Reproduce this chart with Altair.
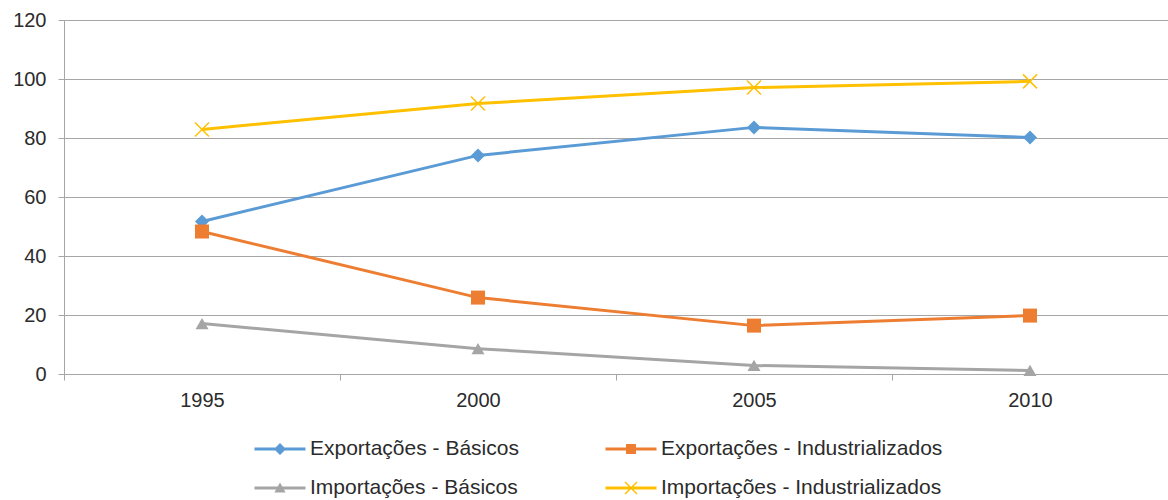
import altair as alt
import pandas as pd

years = ["1995", "2000", "2005", "2010"]
series = [
    "Exportações - Básicos",
    "Exportações - Industrializados",
    "Importações - Básicos",
    "Importações - Industrializados",
]
exp_basicos = [51.7, 74.1, 83.6, 80.2]
exp_industrializados = [48.3, 25.9, 16.4, 19.8]
imp_basicos = [17.1, 8.6, 2.9, 1.2]
imp_industrializados = [82.9, 91.7, 97.1, 99.2]
y_ticks = [0, 20, 40, 60, 80, 100, 120]

colors = ["#5B9BD5", "#ED7D31", "#A5A5A5", "#FFC000"]
markers = ["diamond", "square", "triangle-up", "M-1,-1L1,1M-1,1L1,-1"]
marker_sizes = [196, 196, 169, 196]

# legend symbols: short line + marker (unit coordinates)
line_p = "M-1.7,-0.1L1.7,-0.1L1.7,0.1L-1.7,0.1Z "
legend_paths = [
    line_p + "M-0.4,0L0,-0.4L0.4,0L0,0.4Z",
    line_p + "M-0.33,-0.33L0.33,-0.33L0.33,0.33L-0.33,0.33Z",
    line_p + "M-0.37,0.3L0,-0.37L0.37,0.3Z",
    line_p + "M-0.36,-0.43L0.43,0.36L0.36,0.43L-0.43,-0.36Z M0.36,-0.43L0.43,-0.36L-0.36,0.43L-0.43,0.36Z",
]

all_values = [exp_basicos, exp_industrializados, imp_basicos, imp_industrializados]
rows = []
for s, vals in zip(series, all_values):
    for yr, v in zip(years, vals):
        rows.append({"ano": yr, "serie": s, "valor": v})
df = pd.DataFrame(rows)

FONT = "Liberation Sans"
TXT = "#2B2B2B"
GRID = "#A6A6A6"

x_enc = alt.X(
    "ano:O",
    scale=alt.Scale(type="band", paddingInner=0, paddingOuter=0),
    axis=alt.Axis(
        title=None, labelAngle=0, tickBand="extent", grid=False,
        domainColor=GRID, tickColor=GRID, tickSize=6, labelFontSize=20,
        labelColor=TXT, labelFont=FONT, labelPadding=10,
    ),
)
y_enc = alt.Y(
    "valor:Q",
    scale=alt.Scale(domain=[0, 120], nice=False),
    axis=alt.Axis(
        title=None, values=y_ticks, gridColor=GRID, domainColor=GRID,
        tickColor=GRID, tickSize=6, labelFontSize=20, labelColor=TXT,
        labelFont=FONT, labelPadding=12,
    ),
)

base = alt.Chart(df)

layers = []
for s, c, m, sz in zip(series, colors, markers, marker_sizes):
    sub = base.transform_filter(alt.datum.serie == s)
    layers.append(sub.mark_line(strokeWidth=3, color=c).encode(x=x_enc, y=y_enc))
for s, c, m, sz in zip(series, colors, markers, marker_sizes):
    sub = base.transform_filter(alt.datum.serie == s)
    if m.startswith("M"):
        mk = dict(shape=m, filled=False, stroke=c, strokeWidth=1.5, size=sz, opacity=1)
    else:
        mk = dict(shape=m, filled=True, fill=c, size=sz, opacity=1)
    layers.append(sub.mark_point(**mk).encode(x=x_enc, y=y_enc))

legend_layer = base.mark_point(filled=True, size=0, opacity=1).encode(
    x=x_enc, y=y_enc,
    color=alt.Color(
        "serie:N", scale=alt.Scale(domain=series, range=colors),
        legend=alt.Legend(
            title=None, orient="none", direction="horizontal",
            legendX=201, legendY=414, columns=2,
            columnPadding=86, rowPadding=14, symbolSize=900, symbolStrokeWidth=0,
            labelOffset=15, labelFontSize=21, labelColor=TXT, labelFont=FONT,
            padding=0, symbolOpacity=1, labelLimit=400,
        ),
    ),
    shape=alt.Shape(
        "serie:N", scale=alt.Scale(domain=series, range=legend_paths),
        legend=alt.Legend(title=None),
    ),
)

chart = alt.layer(*layers, legend_layer).properties(
    width=1104, height=354,
    autosize=alt.AutoSizeParams(type="none"),
    padding={"left": 64, "top": 20, "right": 0, "bottom": 126},
    background="white",
).configure_view(stroke=None)

chart.save("out.html", embed_options={"renderer": "svg", "actions": False})
